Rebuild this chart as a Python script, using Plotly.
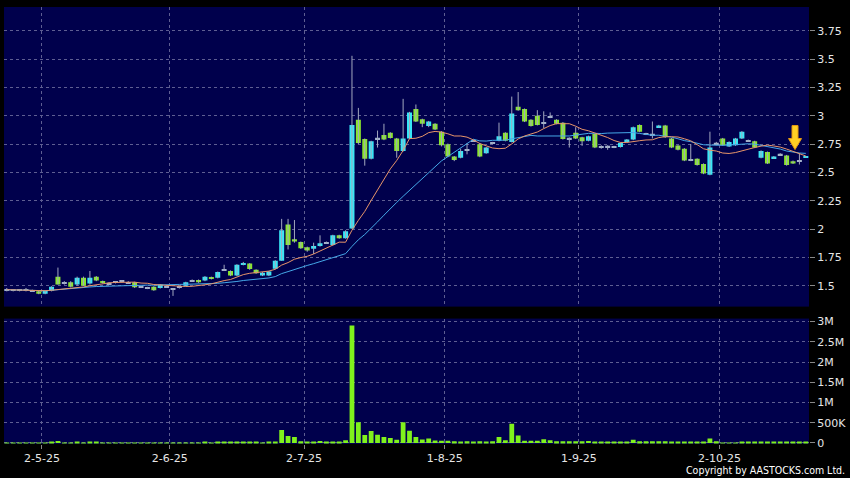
import plotly.graph_objects as go
import pandas as pd

# ---- categories: HK trading days shown on the chart ----
hk_holidays = ["2025-05-01", "2025-05-05", "2025-07-01", "2025-10-01", "2025-10-07"]
dates = [d.strftime("%Y-%m-%d") for d in pd.bdate_range("2025-04-23", "2025-10-22")
         if d.strftime("%Y-%m-%d") not in hk_holidays]

# ---- OHLC values ----
opens = [1.465, 1.46, 1.46, 1.465, 1.455, 1.45, 1.43, 1.455, 1.58, 1.527,
         1.53, 1.51, 1.57, 1.52, 1.58, 1.54, 1.52, 1.53, 1.54, 1.527,
         1.53, 1.49, 1.48, 1.49, 1.48, 1.49, 1.47, 1.486, 1.50, 1.545,
         1.55, 1.545, 1.575, 1.57, 1.64, 1.63, 1.59, 1.685, 1.697, 1.64,
         1.59, 1.59, 1.65, 1.72, 2.04, 1.91, 1.885, 1.84, 1.826, 1.85,
         1.88, 1.86, 1.945, 1.92, 2.005, 2.965, 2.795, 2.62, 2.80, 2.83,
         2.85, 2.80, 2.69, 2.80, 3.06, 2.97, 2.91, 2.93, 2.86, 2.75,
         2.64, 2.63, 2.70, 2.78, 2.75, 2.67, 2.76, 2.78, 2.85, 2.77,
         3.08, 3.06, 2.965, 3.00, 2.94, 2.99, 2.965, 2.94, 2.80, 2.85,
         2.81, 2.78, 2.84, 2.725, 2.73, 2.725, 2.725, 2.77, 2.79, 2.92,
         2.84, 2.835, 2.90, 2.915, 2.80, 2.737, 2.71, 2.61, 2.62, 2.575,
         2.48, 2.757, 2.80, 2.73, 2.74, 2.80, 2.78, 2.775, 2.63, 2.68,
         2.625, 2.66, 2.65, 2.60, 2.60, 2.635]
highs = [1.48, 1.47, 1.47, 1.48, 1.465, 1.455, 1.46, 1.495, 1.66, 1.54,
         1.54, 1.58, 1.58, 1.63, 1.585, 1.545, 1.53, 1.54, 1.55, 1.54,
         1.535, 1.50, 1.49, 1.495, 1.515, 1.50, 1.48, 1.495, 1.535, 1.555,
         1.555, 1.585, 1.58, 1.625, 1.685, 1.635, 1.69, 1.71, 1.70, 1.645,
         1.62, 1.63, 1.725, 2.09, 2.09, 2.08, 1.89, 1.845, 1.88, 1.945,
         1.89, 1.95, 1.95, 1.99, 3.53, 3.07, 2.80, 2.78, 2.87, 2.93,
         2.855, 2.805, 3.15, 3.035, 3.10, 2.975, 2.955, 2.935, 2.865, 2.755,
         2.645, 2.71, 2.76, 2.79, 2.76, 2.725, 2.77, 2.94, 2.855, 3.17,
         3.21, 3.065, 2.97, 3.05, 3.04, 3.03, 2.97, 2.945, 2.81, 2.90,
         2.815, 2.825, 2.845, 2.74, 2.74, 2.735, 2.765, 2.795, 2.905, 2.925,
         2.85, 2.95, 2.92, 2.92, 2.805, 2.74, 2.715, 2.75, 2.625, 2.58,
         2.86, 2.77, 2.805, 2.775, 2.805, 2.865, 2.79, 2.78, 2.695, 2.685,
         2.645, 2.67, 2.655, 2.605, 2.67, 2.645]
lows = [1.45, 1.45, 1.45, 1.45, 1.445, 1.425, 1.425, 1.45, 1.51, 1.51,
        1.485, 1.50, 1.50, 1.51, 1.54, 1.52, 1.51, 1.52, 1.53, 1.52,
        1.48, 1.48, 1.47, 1.455, 1.475, 1.48, 1.41, 1.475, 1.495, 1.535,
        1.525, 1.54, 1.555, 1.565, 1.63, 1.585, 1.585, 1.68, 1.64, 1.605,
        1.585, 1.585, 1.645, 1.72, 1.82, 1.88, 1.825, 1.80, 1.78, 1.845,
        1.87, 1.855, 1.915, 1.915, 2.00, 2.75, 2.56, 2.615, 2.72, 2.785,
        2.80, 2.63, 2.685, 2.795, 2.945, 2.90, 2.90, 2.875, 2.73, 2.635,
        2.60, 2.625, 2.66, 2.77, 2.635, 2.665, 2.75, 2.775, 2.775, 2.765,
        3.045, 2.945, 2.905, 2.915, 2.89, 2.98, 2.925, 2.79, 2.72, 2.795,
        2.735, 2.775, 2.715, 2.71, 2.70, 2.715, 2.72, 2.765, 2.785, 2.855,
        2.83, 2.80, 2.895, 2.805, 2.715, 2.695, 2.60, 2.60, 2.56, 2.485,
        2.475, 2.74, 2.735, 2.725, 2.735, 2.795, 2.77, 2.715, 2.625, 2.575,
        2.62, 2.65, 2.56, 2.575, 2.57, 2.63]
closes = [1.465, 1.46, 1.46, 1.465, 1.455, 1.43, 1.455, 1.49, 1.51, 1.527,
          1.49, 1.57, 1.50, 1.57, 1.545, 1.527, 1.52, 1.53, 1.54, 1.527,
          1.486, 1.49, 1.48, 1.46, 1.51, 1.49, 1.47, 1.486, 1.53, 1.545,
          1.53, 1.58, 1.56, 1.62, 1.64, 1.59, 1.685, 1.70, 1.647, 1.61,
          1.615, 1.625, 1.72, 1.99, 1.86, 1.89, 1.83, 1.81, 1.85, 1.875,
          1.88, 1.945, 1.92, 1.98, 2.92, 2.76, 2.62, 2.775, 2.80, 2.79,
          2.805, 2.69, 2.80, 3.03, 2.95, 2.93, 2.95, 2.88, 2.74, 2.64,
          2.61, 2.69, 2.70, 2.78, 2.64, 2.72, 2.76, 2.82, 2.78, 3.02,
          3.05, 2.95, 2.91, 2.92, 2.94, 2.99, 2.93, 2.795, 2.80, 2.80,
          2.775, 2.82, 2.72, 2.725, 2.73, 2.725, 2.76, 2.79, 2.90, 2.86,
          2.84, 2.835, 2.915, 2.81, 2.72, 2.70, 2.605, 2.61, 2.565, 2.49,
          2.72, 2.757, 2.74, 2.77, 2.80, 2.86, 2.78, 2.72, 2.69, 2.58,
          2.64, 2.66, 2.565, 2.58, 2.60, 2.64]
volumes = [10000, 8000, 5000, 6000, 8000, 10000, 8000, 12000, 50000, 8000,
           10000, 30000, 10000, 35000, 12000, 8000, 6000, 6000, 5000, 6000,
           10000, 6000, 5000, 8000, 10000, 6000, 8000, 6000, 10000, 8000,
           8000, 12000, 10000, 15000, 18000, 15000, 20000, 18000, 15000, 12000,
           10000, 12000, 20000, 320000, 172000, 150000, 40000, 35000, 35000, 50000,
           25000, 35000, 35000, 65000, 2900000, 510000, 200000, 295000, 205000, 148000,
           123000, 82000, 510000, 300000, 150000, 85000, 110000, 60000, 55000, 55000,
           40000, 35000, 45000, 30000, 40000, 35000, 40000, 145000, 70000, 475000,
           185000, 55000, 55000, 55000, 90000, 70000, 40000, 40000, 40000, 40000,
           40000, 50000, 30000, 30000, 30000, 30000, 30000, 30000, 80000, 40000,
           45000, 45000, 45000, 45000, 25000, 25000, 25000, 25000, 25000, 30000,
           110000, 40000, 8000, 8000, 8000, 30000, 30000, 30000, 30000, 20000,
           20000, 20000, 20000, 20000, 20000, 20000]

# ---- tick labels ----
tick_dates = ["2025-05-02", "2025-06-02", "2025-07-02", "2025-08-01", "2025-09-01", "2025-10-02"]
tick_labels = ["2-5-25", "2-6-25", "2-7-25", "1-8-25", "1-9-25", "2-10-25"]
price_ticks = [1.5, 1.75, 2.0, 2.25, 2.5, 2.75, 3.0, 3.25, 3.5, 3.75]
price_tick_labels = ["1.5", "1.75", "2", "2.25", "2.5", "2.75", "3", "3.25", "3.5", "3.75"]
vol_ticks = [0, 500000, 1000000, 1500000, 2000000, 2500000, 3000000]
vol_tick_labels = ["0", "500K", "1M", "1.5M", "2M", "2.5M", "3M"]

# ---- styling ----
UP = "#38e6f6"
DOWN = "#8ae62e"
FLAT = "#a3b3cc"
WICK = "#a3a8bf"
VOLC = "#80f21c"
GRID = "#5e5e92"
BG = "#00004c"

n = len(dates)
x = list(range(n))
tick_pos = [dates.index(d) - 0.5 for d in tick_dates]

# wicks
wx, wy = [], []
for i in range(n):
    wx += [x[i], x[i], None]
    wy += [lows[i], highs[i], None]

# bodies
body_base, body_h, body_col = [], [], []
min_h = 0.012
for o, c in zip(opens, closes):
    lo, hi = min(o, c), max(o, c)
    if hi - lo < min_h:
        mid = (hi + lo) / 2
        lo, hi = mid - min_h / 2, mid + min_h / 2
    body_base.append(lo)
    body_h.append(hi - lo)
    body_col.append(UP if c > o else (DOWN if c < o else FLAT))

ma10 = pd.Series(closes).rolling(10, min_periods=1).mean()
ma20 = pd.Series(closes).rolling(20, min_periods=1).mean()

fig = go.Figure()
fig.add_trace(go.Scatter(x=wx, y=wy, mode="lines", line=dict(color=WICK, width=1),
                         xaxis="x", yaxis="y", hoverinfo="skip"))
fig.add_trace(go.Bar(x=x, y=body_h, base=body_base, width=0.78,
                     marker=dict(color=body_col, line=dict(width=0)),
                     xaxis="x", yaxis="y"))
fig.add_trace(go.Scatter(x=x, y=ma20, mode="lines", line=dict(color="#45a8e8", width=1),
                         xaxis="x", yaxis="y"))
fig.add_trace(go.Scatter(x=x, y=ma10, mode="lines", line=dict(color="#e8956a", width=1),
                         xaxis="x", yaxis="y"))
fig.add_trace(go.Bar(x=x, y=volumes, width=0.75, marker=dict(color=VOLC, line=dict(width=0)),
                     xaxis="x2", yaxis="y2"))

# yellow marker arrow over the latest sessions
fig.add_shape(type="path", xref="x", yref="y", xsizemode="pixel", ysizemode="pixel",
              xanchor=x[-3], yanchor=highs[-3],
              path="M -1,35 L 5,35 L 5,22 L 8.5,22 L 2,11 L -4.5,22 L -1,22 Z",
              fillcolor="#ffcf24", line=dict(color="#e89a10", width=1))

fig.add_annotation(text="Copyright by AASTOCKS.com Ltd.", xref="paper", yref="paper",
                   x=1.0475, y=-0.06, xanchor="right", yanchor="middle", showarrow=False,
                   font=dict(family="DejaVu Sans Condensed, DejaVu Sans", size=10.5, color="#ffffff"))

grid_common = dict(showgrid=True, gridcolor=GRID, griddash="3px,3px", gridwidth=1,
                   zeroline=False, showline=False)
tickfont = dict(family="DejaVu Sans", size=11, color="#e6e6e6")

fig.update_layout(
    width=850, height=478,
    margin=dict(l=4, r=40, t=5, b=34),
    paper_bgcolor="black", plot_bgcolor=BG,
    showlegend=False, barmode="overlay", hovermode=False,
    xaxis=dict(domain=[0, 1], range=[-0.44, 125.5], tickvals=tick_pos,
               showticklabels=False, ticks="", anchor="y", **grid_common),
    yaxis=dict(domain=[0.3144, 1], range=[1.3155, 3.961], side="right", anchor="x",
               tickvals=price_ticks, ticktext=price_tick_labels, ticks="outside",
               ticklen=5, tickcolor="#888888", tickfont=tickfont, **grid_common),
    xaxis2=dict(domain=[0, 1], matches="x", anchor="y2", tickvals=tick_pos,
                ticktext=tick_labels, ticks="outside", ticklen=4, tickcolor="#888888",
                tickfont=tickfont, **grid_common),
    yaxis2=dict(domain=[0, 0.287], range=[-25000, 3074000], side="right", anchor="x2",
                tickvals=vol_ticks, ticktext=vol_tick_labels, ticks="outside",
                ticklen=5, tickcolor="#888888", tickfont=tickfont, **grid_common),
)

fig.write_html("out.html", config={"displayModeBar": False},
               post_script="document.body.style.margin='0';document.body.style.background='black';")
